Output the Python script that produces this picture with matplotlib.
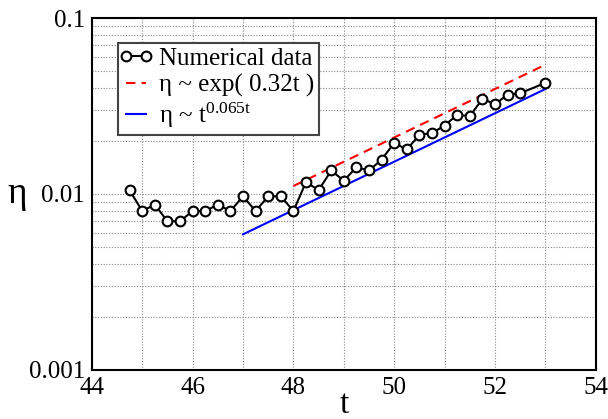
import numpy as np
import matplotlib
matplotlib.use('Agg')
import matplotlib.pyplot as plt
from matplotlib.lines import Line2D
from matplotlib.legend_handler import HandlerLine2D
from matplotlib.ticker import FixedLocator, NullFormatter

# font setup, Times-like look
plt.rcParams['font.family'] = ['Liberation Serif', 'DejaVu Serif']
plt.rcParams['mathtext.fontset'] = 'custom'
plt.rcParams['mathtext.rm'] = 'Liberation Serif'
plt.rcParams['mathtext.it'] = 'Liberation Serif'

# DATA
t_data = [44.75, 45.0, 45.25, 45.5, 45.75, 46.0, 46.25, 46.5, 46.75, 47.0,
          47.25, 47.5, 47.75, 48.0, 48.25, 48.5, 48.75, 49.0, 49.25, 49.5,
          49.75, 50.0, 50.25, 50.5, 50.75, 51.0, 51.25, 51.5, 51.75, 52.0,
          52.25, 52.5, 53.0]
eta_data = [0.0105, 0.0080, 0.0087, 0.0070, 0.0070, 0.0080, 0.0080, 0.0087, 0.0080, 0.0097,
            0.0080, 0.0097, 0.0097, 0.0080, 0.0117, 0.0105, 0.0136, 0.0119, 0.0142, 0.0136,
            0.0157, 0.0195, 0.0179, 0.0217, 0.0222, 0.0245, 0.0282, 0.0277, 0.0347, 0.0324,
            0.0367, 0.0374, 0.0428]

t_exp = [48.0, 53.0]
eta_exp = [0.0111, 0.0543]

t_pow = [47.0, 53.0]
eta_pow = [0.0059, 0.0395]

x_ticks = [44, 46, 48, 50, 52, 54]
y_ticks = [0.001, 0.01, 0.1]
y_tick_labels = ['0.001', '0.01', '0.1']

fig = plt.figure(figsize=(6.08, 4.19), dpi=100)
ax = fig.add_axes([0.151, 0.117, 0.829, 0.840])

ax.plot(t_data, eta_data, '-o', color='black', lw=1.5, ms=7,
        mfc='white', mec='black', mew=1.5, label='Numerical data', zorder=4)
ax.plot(t_exp, eta_exp, color='red', lw=1.5, dashes=(4.5, 3),
        label='\u03b7 ~ exp( 0.32t )', zorder=3)
ax.plot(t_pow, eta_pow, color='blue', lw=1.5,
        label='\u03b7 ~ t$^{\\mathrm{0.065t}}$', zorder=3)

ax.set_yscale('log')
ax.set_xlim(44, 54)
ax.set_ylim(0.001, 0.1)

ax.xaxis.set_major_locator(FixedLocator(x_ticks))
ax.xaxis.set_minor_locator(FixedLocator(np.arange(44, 55, 1)))
ax.xaxis.set_minor_formatter(NullFormatter())
ax.set_xticklabels([str(v) for v in x_ticks])
ax.yaxis.set_major_locator(FixedLocator(y_ticks))
ax.set_yticklabels(y_tick_labels)
ax.yaxis.set_minor_formatter(NullFormatter())

ax.tick_params(which='both', length=0, labelsize=18, pad=5)
ax.grid(which='both', color='#888888', ls=(0, (1, 1.5)), lw=0.8)

for sp in ax.spines.values():
    sp.set_linewidth(1.5)
    sp.set_color('black')

ax.set_xlabel('t', fontsize=24, va='center')
ax.xaxis.set_label_coords(0.5, -0.10)
ax.set_ylabel('\u03b7', fontsize=27, rotation=0, va='center', ha='center')
ax.yaxis.set_label_coords(-0.147, 0.50)

# markers sit at the ends of the short handle line (o-o)
leg = ax.legend(loc='upper left', bbox_to_anchor=(0.051, 0.930), borderaxespad=0,
                fontsize=18, fancybox=False, framealpha=1, edgecolor='#444444',
                numpoints=2, handlelength=1.1, handletextpad=0.35,
                borderpad=0.2, labelspacing=0.15,
                handler_map={Line2D: HandlerLine2D(marker_pad=0.15)})
leg.get_frame().set_linewidth(1.5)

plt.savefig('out.png', dpi=100)
